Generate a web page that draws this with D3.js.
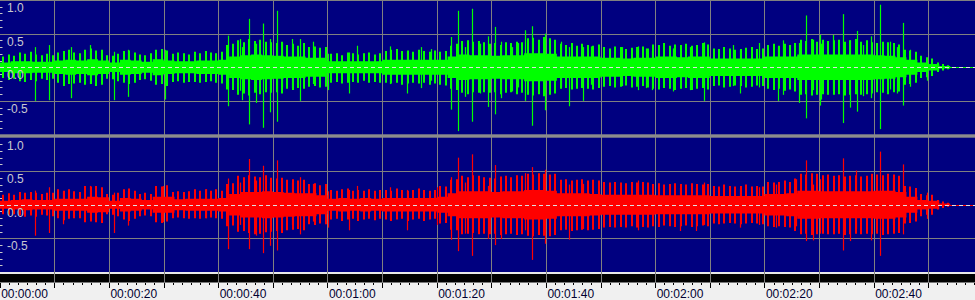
<!DOCTYPE html>
<meta charset="utf-8">
<style>
  body { margin: 0; background: #f0f0f0; }
  svg { display: block; }
</style>
<script src="https://cdn.jsdelivr.net/npm/d3@7"></script>
<div id="chart"></div>
<script>

// dense core of the waveform, one symmetric value every 2 seconds
var greenCore = [
  .07,.09,.09,.08,.08,.10,.11,.10,.12,.10, .07,.11,.10,.08,.12,.10,.09,.09,.10,.10,
  .11,.16,.18,.19,.18,.17,.16,.16,.14,.14, .09,.09,.09,.09,.09,.11,.11,.11,.11,.11,
  .11,.16,.19,.18,.18,.17,.18,.18,.21,.21, .20,.16,.16,.16,.16,.14,.14,.13,.14,.14,
  .16,.16,.15,.16,.16,.13,.13,.13,.13,.13, .16,.16,.16,.19,.19,.19,.19,.19,.19,.19,
  .18,.17,.15,.11,.07,.05,.02
];
var redCore = [
  .06,.07,.08,.07,.07,.09,.09,.09,.12,.11, .06,.10,.09,.07,.12,.12,.08,.09,.09,.09,
  .10,.16,.19,.19,.20,.19,.18,.17,.17,.14, .09,.10,.09,.10,.09,.10,.10,.10,.10,.10,
  .12,.17,.20,.20,.20,.19,.20,.20,.22,.22, .21,.17,.17,.17,.16,.15,.15,.15,.15,.15,
  .14,.14,.14,.14,.14,.13,.13,.13,.13,.13, .16,.16,.17,.21,.21,.20,.20,.20,.20,.20,
  .21,.21,.19,.12,.07,.06,.02
];

// outer peaks, one value per second (upper / lower), channel 1 (green)
var greenTop = [
  .16,.19,.17,.22,.20,.23,.19,.18,.20,.18, .22,.24,.26,.22,.21,.26,.28,.25,.26,.18,
  .17,.20,.24,.25,.22,.19,.18,.21,.26,.27, .25,.20,.22,.21,.19,.23,.21,.24,.22,.21,
  .23,.33,.35,.40,.37,.42,.39,.41,.38,.37, .36,.38,.33,.35,.32,.36,.30,.31,.29,.30,
  .20,.21,.18,.22,.21,.19,.21,.22,.19,.21, .24,.26,.27,.24,.25,.23,.26,.24,.23,.25,
  .23,.24,.32,.35,.39,.40,.38,.39,.37,.35, .36,.33,.37,.36,.38,.37,.43,.44,.41,.45,
  .43,.41,.35,.33,.36,.32,.35,.33,.32,.34, .30,.28,.31,.30,.27,.29,.30,.31,.28,.34,
  .33,.36,.32,.34,.33,.35,.32,.33,.36,.34, .28,.27,.30,.28,.26,.27,.29,.30,.27,.28,
  .33,.35,.32,.35,.33,.36,.41,.39,.42,.38, .41,.39,.40,.41,.38,.40,.42,.38,.40,.37,
  .36,.38,.37,.36,.34,.26,.25,.23,.17,.15, .13,.07,.05,.03
];
var greenBottom = [
  .16,.19,.17,.21,.22,.19,.21,.17,.19,.17, .23,.28,.25,.24,.23,.26,.25,.28,.26,.17,
  .18,.21,.23,.25,.23,.19,.18,.20,.26,.25, .28,.22,.21,.23,.22,.22,.23,.22,.21,.23,
  .24,.33,.34,.41,.39,.42,.38,.40,.37,.38, .37,.39,.32,.34,.31,.32,.29,.28,.30,.29,
  .23,.22,.24,.23,.22,.23,.20,.23,.22,.23, .23,.24,.23,.26,.24,.23,.24,.23,.26,.24,
  .26,.27,.32,.34,.38,.40,.37,.38,.37,.38, .37,.40,.38,.37,.40,.38,.41,.42,.40,.43,
  .41,.39,.32,.31,.33,.32,.31,.32,.33,.31, .29,.28,.30,.29,.27,.30,.29,.28,.30,.32,
  .33,.31,.32,.34,.32,.31,.34,.32,.31,.33, .28,.27,.30,.29,.27,.28,.30,.29,.27,.28,
  .32,.34,.32,.35,.33,.36,.41,.40,.42,.41, .40,.41,.41,.40,.42,.41,.40,.41,.40,.39,
  .37,.38,.40,.37,.36,.26,.25,.23,.16,.15, .13,.07,.05,.03
];
// channel 2 (red)
var redTop = [
  .15,.17,.15,.19,.18,.19,.18,.16,.18,.18, .23,.21,.23,.20,.19,.28,.27,.28,.26,.16,
  .15,.18,.23,.24,.21,.16,.18,.16,.28,.27, .29,.19,.20,.19,.20,.23,.21,.23,.21,.23,
  .21,.31,.32,.43,.41,.44,.42,.41,.44,.40, .39,.40,.37,.38,.36,.37,.31,.32,.29,.31,
  .22,.21,.23,.24,.21,.22,.21,.23,.21,.22, .22,.21,.24,.22,.21,.22,.24,.22,.21,.22,
  .28,.27,.37,.38,.43,.41,.44,.43,.41,.40, .39,.42,.43,.41,.44,.43,.46,.45,.47,.46,
  .45,.46,.37,.38,.36,.37,.38,.36,.37,.36, .34,.33,.34,.33,.32,.34,.33,.34,.33,.31,
  .32,.30,.31,.32,.31,.30,.32,.31,.30,.31, .28,.27,.30,.28,.27,.28,.30,.27,.28,.27,
  .34,.33,.34,.36,.34,.39,.46,.45,.47,.46, .44,.45,.43,.44,.42,.43,.44,.42,.43,.46,
  .45,.44,.46,.45,.43,.28,.27,.25,.16,.14, .15,.07,.05,.03
];
var redBottom = [
  .14,.15,.14,.16,.18,.16,.18,.15,.16,.17, .20,.23,.21,.20,.20,.26,.25,.26,.27,.14,
  .15,.17,.22,.24,.21,.17,.16,.17,.26,.27, .25,.20,.19,.20,.21,.20,.21,.20,.19,.20,
  .21,.32,.31,.40,.39,.42,.44,.43,.41,.40, .39,.42,.38,.37,.36,.38,.29,.30,.28,.29,
  .22,.21,.24,.22,.21,.24,.22,.21,.23,.21, .22,.24,.22,.21,.24,.22,.21,.24,.22,.21,
  .28,.27,.37,.38,.44,.43,.42,.44,.43,.44, .43,.45,.44,.43,.45,.44,.46,.47,.45,.46,
  .47,.45,.38,.37,.39,.38,.37,.38,.37,.36, .34,.33,.34,.33,.34,.32,.34,.33,.34,.32,
  .33,.31,.32,.33,.32,.31,.33,.32,.31,.32, .28,.29,.28,.27,.28,.29,.28,.27,.28,.29,
  .32,.33,.32,.33,.34,.39,.44,.43,.45,.44, .43,.44,.44,.43,.45,.44,.43,.44,.43,.44,
  .43,.45,.44,.43,.42,.28,.27,.25,.17,.15, .15,.07,.05,.03
];

// single tall peaks: [second, up, down]
var greenSpikes = [
  [6.5,.3,.5],[9,.33,.49],[13.1,.3,.46],[16.5,.33,.25],[21,.23,.49],[23.4,.26,.44],[30.2,.26,.48],
  [41.8,.47,.58],[43.9,.42,.35],[44.4,.3,.49],[45.6,.72,.85],[47,.35,.53],[48.2,.65,.9],[49.4,.42,.67],
  [50.8,.84,.81],[51.6,.36,.3],[53.6,.42,.31],[55,.42,.5],[57.3,.38,.25],
  [60.1,.2,.34],[64,.22,.39],[65.5,.32,.2],[71.4,.31,.25],[74.6,.24,.39],[77.2,.3,.31],[79,.27,.2],
  [82.6,.45,.63],[83.9,.84,.95],[85.1,.3,.44],[86.4,.87,.81],[88,.35,.39],[89.4,.46,.59],[90.7,.6,.7],
  [91.8,.38,.46],[93.7,.3,.36],[94.9,.36,.3],[96.2,.55,.5],[97.4,.61,.87],[99.9,.5,.64],[102.8,.38,.3],
  [104.2,.3,.58],[106.8,.3,.5],[108.3,.31,.26],[114,.3,.28],[116.8,.31,.34],[118.3,.28,.31],
  [119.4,.24,.34],[123.3,.28,.36],[126.3,.3,.34],[128.9,.37,.5],[134.2,.33,.28],[135.5,.26,.39],
  [139,.36,.3],[142.5,.3,.5],[143.4,.4,.41],[146.3,.36,.53],[147.6,.77,.76],[148.9,.41,.34],
  [150.1,.48,.57],[150.4,.35,.48],[152.6,.48,.35],[154.4,.79,.83],[155.6,.4,.6],[157,.54,.66],
  [158.1,.33,.43],[159.5,.46,.46],[161.2,.93,.92],[163,.38,.33],[164.2,.3,.39],[165.4,.66,.57],
  [166.6,.26,.29],[169.7,.11,.2]
];
var redSpikes = [
  [6.5,.21,.46],[9,.26,.42],[11.5,.2,.29],[16.5,.28,.2],[21,.18,.42],[23.4,.2,.31],[29.9,.28,.26],
  [37.8,.23,.2],[41.8,.39,.66],[43.9,.33,.3],[45.6,.68,.66],[47,.36,.46],[48.2,.58,.72],[49.4,.33,.61],
  [50.8,.66,.68],[53.6,.33,.3],[55,.41,.44],[57.3,.31,.25],
  [60.1,.2,.34],[64,.22,.38],[65.5,.28,.2],[71.4,.26,.22],[74.6,.22,.38],[80,.26,.3],[82.6,.41,.52],
  [83.9,.7,.69],[85.1,.33,.43],[86.4,.75,.76],[89.4,.28,.51],[90.7,.59,.6],[91.8,.3,.51],[96.2,.47,.38],
  [97.4,.56,.82],[99.9,.52,.58],[104.2,.3,.52],[106.8,.31,.36],[116.8,.36,.38],
  [124.5,.25,.39],[127.4,.25,.39],[128.9,.33,.3],[135.5,.24,.34],[139,.26,.3],[142.2,.3,.34],
  [145.8,.38,.32],[147.6,.66,.54],[148.9,.3,.53],[150.1,.38,.43],[154.4,.69,.68],[155.6,.36,.54],
  [156.8,.51,.36],[159.5,.37,.53],[161.2,.79,.76],[163.5,.4,.3],[165.4,.6,.44],[169.7,.18,.21]
];

var ampTicks = [1.0, 0.5, 0.0, -0.5];
var ampLabels = ["1.0", "0.5", "0.0", "-0.5"];
var timeTicks = [0, 20, 40, 60, 80, 100, 120, 140, 160];
var timeLabels = ["00:00:00","00:00:20","00:00:40","00:01:00","00:01:20","00:01:40","00:02:00","00:02:20","00:02:40"];

var width = 975, height = 300;

var svg = d3.select("#chart").append("svg")
    .attr("width", width)
    .attr("height", height)
    .style("font-family", "'Liberation Sans', Arial, sans-serif");

var x = d3.scaleLinear().domain([0, 180]).range([-0.3, 982.95]);

var channels = [
  { core: greenCore, top: greenTop, bottom: greenBottom, spikes: greenSpikes, color: "#00ff00",
    y: d3.scaleLinear().domain([-1, 1]).range([134.5, 0]) },
  { core: redCore, top: redTop, bottom: redBottom, spikes: redSpikes, color: "#ff0000",
    y: d3.scaleLinear().domain([-1, 1]).range([272, 137.5]) }
];

// backgrounds
svg.append("rect").attr("x", 0).attr("y", 0).attr("width", width).attr("height", 272)
    .attr("fill", "#000080");
svg.append("rect").attr("x", 0).attr("y", 272).attr("width", width).attr("height", 2)
    .attr("fill", "#e8e8e8");
svg.append("rect").attr("x", 0).attr("y", 274).attr("width", width).attr("height", 8.5)
    .attr("fill", "#000");

// vertical grid every 10 s
var grid10 = d3.range(10, 180, 10);
svg.selectAll(".vgrid").data(grid10).enter().append("line")
    .attr("x1", d => Math.round(x(d)) + 0.5).attr("x2", d => Math.round(x(d)) + 0.5)
    .attr("y1", 0).attr("y2", 282.5)
    .attr("stroke", "#808080").attr("stroke-width", 1);

channels.forEach(function(ch) {
  var y = ch.y;
  var g = svg.append("g");

  // horizontal grid
  g.selectAll(".hgrid").data([0.5, -0.5]).enter().append("line")
      .attr("x1", 0).attr("x2", width)
      .attr("y1", d => Math.round(y(d)) + 0.5).attr("y2", d => Math.round(y(d)) + 0.5)
      .attr("stroke", "#808080");

  // small amplitude ticks on the left edge
  g.selectAll(".atick").data(d3.range(-9, 10).filter(d => d % 5 != 0)).enter().append("line")
      .attr("x1", 0).attr("x2", 2.5)
      .attr("y1", d => Math.round(y(d / 10)) + 0.5).attr("y2", d => Math.round(y(d / 10)) + 0.5)
      .attr("stroke", "#c8c8c8");

  // zero line
  g.append("line").attr("x1", 0).attr("x2", width)
      .attr("y1", Math.round(y(0)) + 0.5).attr("y2", Math.round(y(0)) + 0.5)
      .attr("stroke", ch.color);

  // outer peaks: one stroke per second
  g.selectAll(".peak").data(ch.top.map((v, i) => [i + 0.5, v, ch.bottom[i]])).enter().append("line")
      .attr("x1", d => Math.round(x(d[0])) + 1).attr("x2", d => Math.round(x(d[0])) + 1)
      .attr("y1", d => y(d[1])).attr("y2", d => y(-d[2]))
      .attr("stroke", ch.color).attr("stroke-width", 2);

  // dense core
  var pts = ch.core.map((v, i) => ({ t: i * 2, a: v }));
  pts.push({ t: ch.core.length * 2, a: ch.core[ch.core.length - 1] });
  var area = d3.area()
      .curve(d3.curveStepAfter)
      .x(d => x(d.t))
      .y0(d => y(-d.a))
      .y1(d => y(d.a));
  g.append("path").datum(pts).attr("d", area).attr("fill", ch.color);

  // tall peaks
  g.selectAll(".spike").data(ch.spikes).enter().append("line")
      .attr("x1", d => Math.round(x(d[0])) + 0.5).attr("x2", d => Math.round(x(d[0])) + 0.5)
      .attr("y1", d => y(d[1])).attr("y2", d => y(-d[2]))
      .attr("stroke", ch.color).attr("stroke-width", 1.2);

  // dashed centre line
  g.append("line").attr("x1", 0).attr("x2", width)
      .attr("y1", Math.round(y(0)) + 0.5).attr("y2", Math.round(y(0)) + 0.5)
      .attr("stroke", "#e0e0e0").attr("stroke-dasharray", "4,3");

  // amplitude labels
  g.selectAll(".alabel").data(ampTicks).enter().append("text")
      .attr("x", 7).attr("y", (d, i) => y(d) + 12)
      .attr("fill", "#c8c8d0").attr("font-size", "12px")
      .text((d, i) => ampLabels[i]);
});

// separator between channels
svg.append("rect").attr("x", 0).attr("y", 134.3).attr("width", width).attr("height", 3.4)
    .attr("fill", "#8c8c8c");
svg.append("line").attr("x1", 0).attr("x2", width).attr("y1", 0.5).attr("y2", 0.5)
    .attr("stroke", "#808080");

// time ruler
var minor = d3.range(0, 180, 10 / 6);
svg.selectAll(".mtick").data(minor).enter().append("line")
    .attr("x1", d => Math.round(x(d)) + 0.5).attr("x2", d => Math.round(x(d)) + 0.5)
    .attr("y1", 283).attr("y2", d => (Math.round(d * 6) % 60 == 0) ? 288 : 285)
    .attr("stroke", "#000");

svg.selectAll(".tlabel").data(timeTicks).enter().append("text")
    .attr("x", d => x(d) + 1.5).attr("y", 298)
    .attr("fill", "#000030").attr("font-size", "12px")
    .text((d, i) => timeLabels[i]);

</script>
